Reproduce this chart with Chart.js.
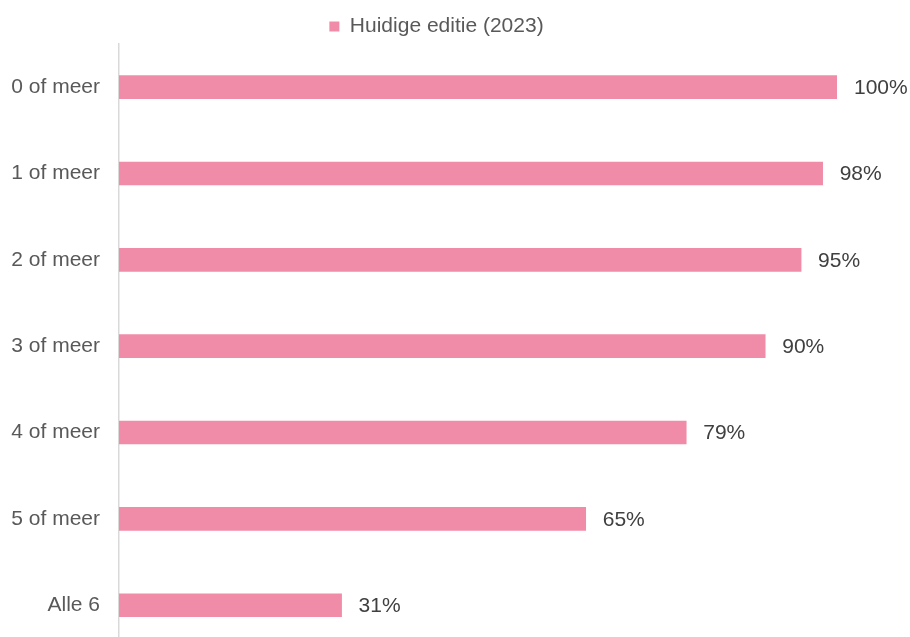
<!DOCTYPE html>
<html>
<head>
<meta charset="utf-8">
<script src="https://cdn.jsdelivr.net/npm/chart.js@4"></script>
<style>
  html, body { margin: 0; padding: 0; overflow: hidden; background: #fff; }
  canvas { display: block; }
</style>
</head>
<body>
<canvas id="c" width="910" height="680"></canvas>
<script>
// Aantal onderdelen behaald – huidige editie
const categories = ['0 of meer', '1 of meer', '2 of meer', '3 of meer', '4 of meer', '5 of meer', 'Alle 6'];
const values = [100, 98, 95, 90, 79, 65, 31];
const seriesName = 'Huidige editie (2023)';

const FONT = "'Liberation Sans', Arial, sans-serif";
const PINK = '#F08CA8';

// Percentage labels to the right of each bar
const valueLabels = {
  id: 'valueLabels',
  afterDatasetsDraw(chart) {
    const ctx = chart.ctx;
    const meta = chart.getDatasetMeta(0);
    ctx.save();
    ctx.font = '21px ' + FONT;
    ctx.fillStyle = '#404040';
    ctx.textAlign = 'left';
    ctx.textBaseline = 'middle';
    meta.data.forEach((bar, i) => {
      ctx.fillText(values[i] + '%', bar.x + 17, bar.y + 1);
    });
    ctx.restore();
  }
};

// Nudge the legend slightly right and down
const legendShift = {
  id: 'legendShift',
  afterLayout(chart) {
    const lg = chart.legend;
    if (lg) {
      lg.left += 18;
      lg.right += 18;
      lg.top += 3;
      lg.bottom += 3;
    }
  }
};

new Chart(document.getElementById('c'), {
  type: 'bar',
  data: {
    labels: categories,
    datasets: [{
      label: seriesName,
      data: values,
      backgroundColor: PINK,
      borderWidth: 0,
      barThickness: 23
    }]
  },
  options: {
    indexAxis: 'y',
    responsive: false,
    maintainAspectRatio: false,
    animation: false,
    layout: { padding: { top: 3, right: 73, bottom: 0, left: 0 } },
    plugins: {
      legend: {
        display: true,
        position: 'top',
        labels: {
          boxWidth: 10,
          boxHeight: 10,
          color: '#595959',
          font: { family: FONT, size: 21 },
          padding: 10
        }
      },
      tooltip: { enabled: false }
    },
    scales: {
      x: {
        display: false,
        min: 0,
        max: 100
      },
      y: {
        grid: { display: false, drawTicks: false },
        border: { display: true, color: '#d9d9d9', width: 1.5 },
        ticks: {
          color: '#595959',
          font: { family: FONT, size: 21 },
          padding: 19
        },
        afterFit(scale) { scale.width = 119; }
      }
    }
  },
  plugins: [valueLabels, legendShift]
});
</script>
</body>
</html>
